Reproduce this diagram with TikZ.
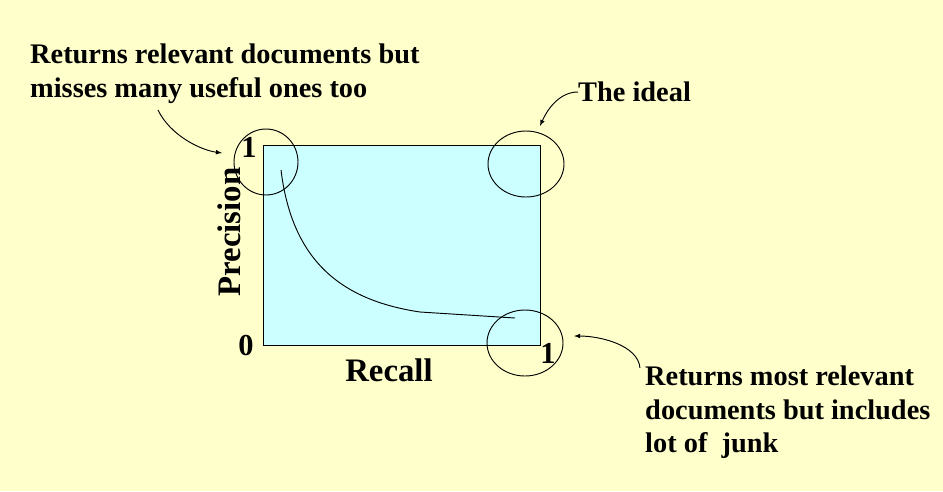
\documentclass[tikz,border=0pt]{standalone}
\usepackage{fontspec}
\setmainfont{Liberation Serif}
\definecolor{bgyellow}{rgb}{1,1,0.8}
\definecolor{boxcyan}{rgb}{0.8,1,1}
\begin{document}
\begin{tikzpicture}[
	x=0.03cm, y=-0.03cm,
	every node/.style = {font=\bfseries\fontsize{24.2}{28.5}\selectfont, align=left, inner sep=0pt},
	pointer/.style = {draw, thick, -latex}
]
\fill[bgyellow] (0,0) rectangle (943,491);
\useasboundingbox (0,0) rectangle (943,491);

\draw[fill=boxcyan] (263,145) rectangle (540,345);

\draw[thick] (266,162) ellipse [x radius=32, y radius=33];
\draw[thick] (526,164) ellipse [x radius=38, y radius=33];
\draw[thick] (525,343) ellipse [x radius=38, y radius=33];

\draw[thick] (281,170) .. controls (292,260) and (340,300) .. (420,312) -- (515,318);

\node (one) at (249,147) {\fontsize{26}{26}\selectfont 1};
\node (zero) at (246,346) {\fontsize{26}{26}\selectfont 0};
\node (onex) at (548,353) {\fontsize{26}{26}\selectfont 1};
\node (prec) [rotate=90] at (229,232) {\fontsize{28}{28}\selectfont Precision};
\node (rec) at (389,370) {\fontsize{28}{28}\selectfont Recall};

\node (lefttxt) [anchor=north west] at (30,44) {Returns relevant documents but\\misses many useful ones too};
\node (ideal) [anchor=west] at (578,92) {The ideal};
\node (junk) [anchor=north west] at (645,366) {Returns most relevant\\documents but includes\\lot of\ \ junk};

\coordinate (ltip) at (222,153);
\coordinate (itip) at (540,126);
\coordinate (jtip) at (574,336);
\draw[pointer] (158,110) .. controls (170,135) and (200,150) .. (ltip);
\draw[pointer] (ideal.west) .. controls (560,92) and (548,108) .. (itip);
\draw[pointer] (640,368) .. controls (638,345) and (600,336) .. (jtip);
\end{tikzpicture}
\end{document}
